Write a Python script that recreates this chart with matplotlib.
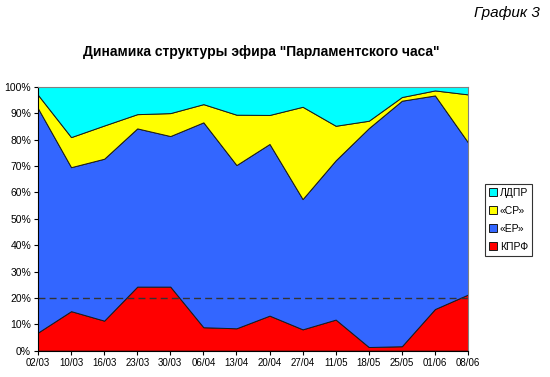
import matplotlib
matplotlib.use('Agg')
import matplotlib.pyplot as plt
import numpy as np

plt.rcParams['font.family'] = ['Liberation Sans', 'DejaVu Sans']

dates = ["02/03", "10/03", "16/03", "23/03", "30/03", "06/04", "13/04",
         "20/04", "27/04", "11/05", "18/05", "25/05", "01/06", "08/06"]

# shares in % (bottom to top)
kprf = [6.9, 15.0, 11.4, 24.3, 24.3, 8.9, 8.5, 13.3, 8.1, 11.8, 1.4, 1.7, 15.8, 21.3]
er = [85.0, 54.6, 61.4, 60.0, 57.1, 77.7, 61.9, 65.1, 49.4, 60.4, 83.0, 93.1, 81.0, 57.7]
sr = [5.1, 11.4, 12.6, 5.4, 8.7, 6.9, 19.1, 11.0, 35.0, 13.1, 2.8, 1.4, 1.9, 18.2]
ldpr = [3.0, 19.0, 14.6, 10.3, 9.9, 6.5, 10.5, 10.6, 7.5, 14.7, 12.8, 3.8, 1.3, 2.8]

labels = ["КПРФ", "«ЕР»", "«СР»", "ЛДПР"]
colors = ["#FF0000", "#3366FF", "#FFFF00", "#00FFFF"]
threshold = 20

fig = plt.figure(figsize=(5.5, 3.77), dpi=100)
ax = fig.add_axes([38 / 550, 1 - 350.7 / 377, 430 / 550, (350.7 - 87) / 377])

x = np.arange(len(dates))
polys = ax.stackplot(x, kprf, er, sr, ldpr, colors=colors, labels=labels,
                     edgecolor='#1a1a1a', linewidth=0.7)
ax.axhline(threshold, color='#333333', linestyle=(0, (5, 3)), linewidth=1.0)

ax.set_xlim(0, len(dates) - 1)
ax.set_ylim(0, 100)
ax.set_xticks(x)
ax.set_xticklabels(dates, fontsize=7)
ax.set_yticks(np.arange(0, 101, 10))
ax.set_yticklabels([f"{v}%" for v in range(0, 101, 10)], fontsize=7.5)
ax.tick_params(direction='out', length=3, width=0.8, pad=2)

for side in ['top', 'right']:
    ax.spines[side].set_color('#808080')
    ax.spines[side].set_linewidth(0.8)
for side in ['left', 'bottom']:
    ax.spines[side].set_color('black')
    ax.spines[side].set_linewidth(0.8)

handles, lbls = ax.get_legend_handles_labels()
leg = fig.legend(handles[::-1], lbls[::-1], loc='upper left',
                 bbox_to_anchor=(485 / 550, 1 - 184 / 377),
                 fontsize=7.5, frameon=True, fancybox=False,
                 handlelength=0.8, handleheight=0.8, handletextpad=0.3,
                 borderpad=0.35, labelspacing=0.78, borderaxespad=0)
leg.get_frame().set_edgecolor('black')
leg.get_frame().set_linewidth(0.8)

fig.text(261 / 550, 1 - 52 / 377, 'Динамика структуры эфира "Парламентского часа"',
         ha='center', va='center', fontsize=10, fontweight='bold')
fig.text(540 / 550, 1 - 13 / 377, 'График 3', ha='right', va='center',
         fontsize=11, fontstyle='italic')

fig.savefig('out.png', dpi=100, facecolor='white')
